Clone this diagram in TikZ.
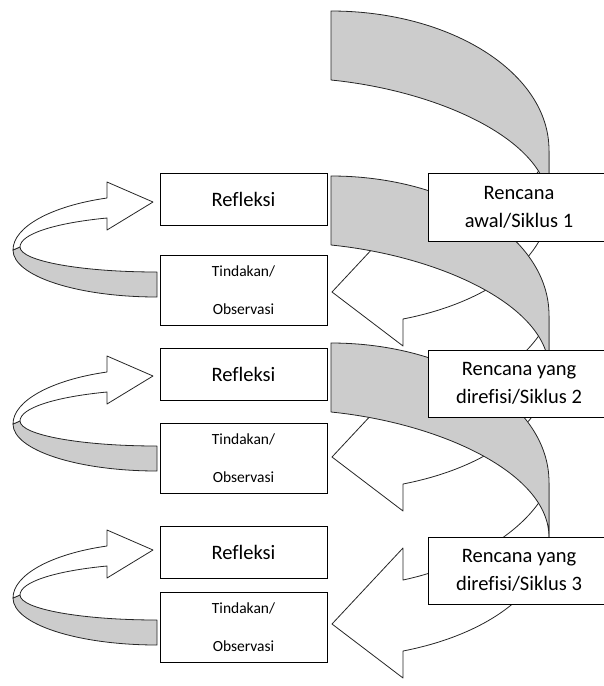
\documentclass[tikz,border=0pt]{standalone}
\usepackage{fontspec}
\setmainfont{Carlito}[Ligatures=NoCommon]
\usepackage{tikz}
\usetikzlibrary{positioning}

\begin{document}
\begin{tikzpicture}[x=1pt, y=-1pt,
	box/.style={draw, line width=0.9pt, fill=white, inner sep=0pt, align=center},
	refbox/.style={box, minimum width=167pt, minimum height=52pt, font=\fontsize{20.5}{25}\selectfont},
	actbox/.style={box, minimum width=167pt, minimum height=70pt, font=\fontsize{15.5}{38}\selectfont},
	planbox/.style={box, minimum width=182pt, minimum height=67pt, font=\fontsize{20.5}{28}\selectfont},
	band/.style={draw=black!85, line width=0.8pt, line join=round}]
				\useasboundingbox (0,0) rectangle (603,686);
				
				% big curved arrows on the right
				\foreach \t in {11,176,343}{
					\begin{scope}[yshift=-\t pt]
					\draw [band, fill=white] (549,140) -- (540,158) .. controls (515,195) and (460,225) .. (403,237) -- (403,205) -- (332,281) -- (403,335) -- (403,308) .. controls (491,291) and (549,245) .. (549,194) -- cycle;
					\draw [band, fill=black!20] (331,0) .. controls (451,0) and (549,62) .. (549,139) -- (549,194) .. controls (549,130) and (440,80) .. (331,69) -- cycle;
					\end{scope}
				}
				
				% small curved arrows on the left
				\foreach \d in {0,174,348}{
					\begin{scope}[yshift=-\d pt]
					\draw [band, fill=black!20] (20,247) .. controls (20,261) and (81,272) .. (157,272) -- (157,297) .. controls (77,297) and (13,276) .. (13,250) -- cycle;
					\draw [band, fill=white] (13,250) .. controls (13,227) and (51,206) .. (107,198) -- (107,182) -- (153,202) -- (107,230) -- (107,218) .. controls (55,223) and (20,234) .. (20,247) -- cycle;
					\end{scope}
				}
				
				\node [refbox] (ref1) at (243.5,199.5) {Refleksi};
				\node [actbox] (act1) at (243.5,290.5) {Tindakan/\\Observasi};
				\node [refbox] (ref2) at (243.5,374.5) {Refleksi};
				\node [actbox] (act2) at (243.5,458.5) {Tindakan/\\Observasi};
				\node [refbox] (ref3) at (243.5,552) {Refleksi};
				\node [actbox] (act3) at (243.5,627.5) {Tindakan/\\Observasi};
				
				\node [planbox, minimum height=68pt] (plan1) at (519,207) {Rencana\\awal/Siklus 1};
				\node [planbox] (plan2) at (519,383.5) {Rencana yang\\direfisi/Siklus 2};
				\node [planbox] (plan3) at (519,570.5) {Rencana yang\\direfisi/Siklus 3};
\end{tikzpicture}
\end{document}
